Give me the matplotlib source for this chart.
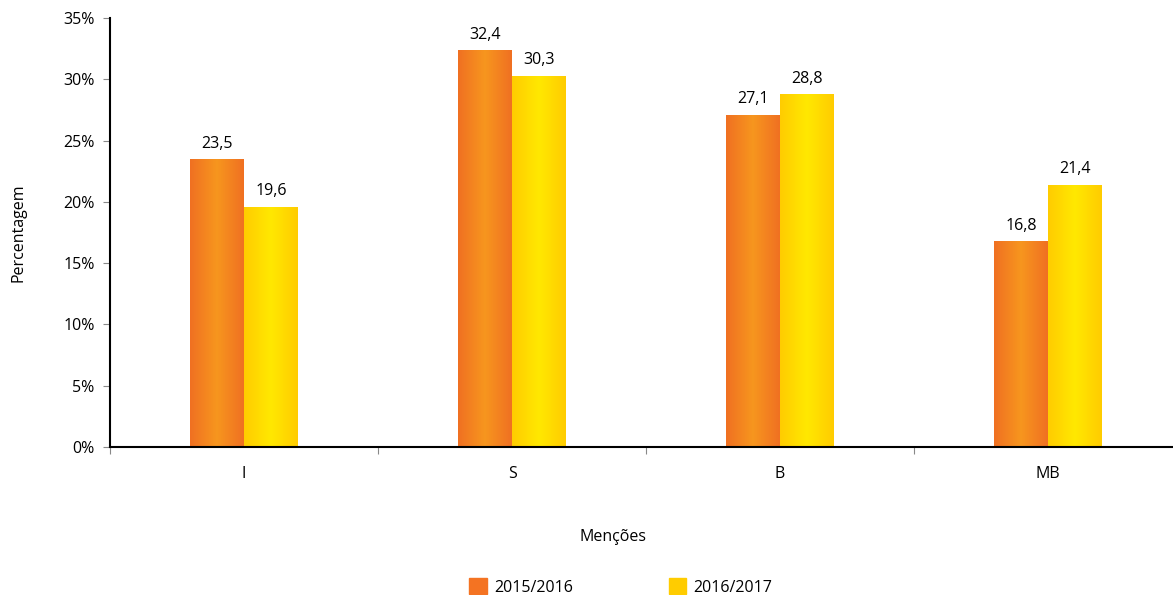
import matplotlib.pyplot as plt
import numpy as np
from matplotlib.colors import LinearSegmentedColormap
from matplotlib.patches import Patch
from matplotlib.ticker import FuncFormatter

categories = ["I", "S", "B", "MB"]
series_names = ["2015/2016", "2016/2017"]
values_2015 = [23.5, 32.4, 27.1, 16.8]
values_2016 = [19.6, 30.3, 28.8, 21.4]

plt.rcParams['font.family'] = ['Open Sans', 'DejaVu Sans']
FS = 11.5

fig = plt.figure(figsize=(11.73, 5.95), dpi=100)
ax = fig.add_axes([110 / 1173, 1 - 447 / 595, (1173 - 110) / 1173, (447 - 18) / 595])

orange_cmap = LinearSegmentedColormap.from_list("o", ["#F07022", "#F7961E", "#F07022"])
yellow_cmap = LinearSegmentedColormap.from_list("y", ["#FFCC00", "#FFE800", "#FFCC00"])

x = np.arange(len(categories))
width = 0.2
grad = np.linspace(0, 1, 256).reshape(1, -1)

def gradient_bars(xpos, vals, cmap, label):
    bars = ax.bar(xpos, vals, width, color='none', label=label)
    for b, v in zip(bars, vals):
        x0 = b.get_x()
        im = ax.imshow(grad, cmap=cmap, aspect='auto',
                       extent=[x0, x0 + b.get_width(), 0, v], zorder=2)
        im.set_clip_path(b)
        ax.text(x0 + b.get_width() / 2, v + 0.6, f"{v:.1f}".replace(".", ","),
                ha='center', va='bottom', fontsize=FS)
    return bars

gradient_bars(x - width / 2, values_2015, orange_cmap, series_names[0])
gradient_bars(x + width / 2, values_2016, yellow_cmap, series_names[1])

ax.set_xlim(-0.5, 3.466)
ax.set_ylim(0, 35)
ax.set_yticks(np.arange(0, 36, 5))
ax.yaxis.set_major_formatter(FuncFormatter(lambda v, p: f"{int(v)}%"))
ax.set_xticks(x)
ax.set_xticklabels(categories)
ax.set_xticks([-0.5, 0.5, 1.5, 2.5], minor=True)
ax.tick_params(axis='x', which='major', length=0, pad=14, labelsize=FS)
ax.tick_params(axis='x', which='minor', length=5, width=0.8, color='#888888')
ax.tick_params(axis='y', length=5, width=0.8, color='#888888', labelsize=FS, pad=6)

for s in ['top', 'right']:
    ax.spines[s].set_visible(False)
ax.spines['left'].set_linewidth(1.5)
ax.spines['bottom'].set_linewidth(1.5)

ax.set_ylabel("Percentagem", fontsize=FS)
ax.yaxis.set_label_coords((27 - 110) / 1063, (447 - 233) / 429)
ax.set_xlabel("Menções", fontsize=FS)
ax.xaxis.set_label_coords((613 - 110) / 1063, -(529 - 447) / 429)

handles = [Patch(color="#F47322"), Patch(color="#FFCC00")]
fig.legend(handles, series_names, loc='center', bbox_to_anchor=(621 / 1173, 1 - 587 / 595),
           ncol=2, frameon=False, fontsize=FS, handlelength=1.1, handleheight=1.1,
           columnspacing=6.0, handletextpad=0.45)

fig.savefig("out.png", dpi=100)
